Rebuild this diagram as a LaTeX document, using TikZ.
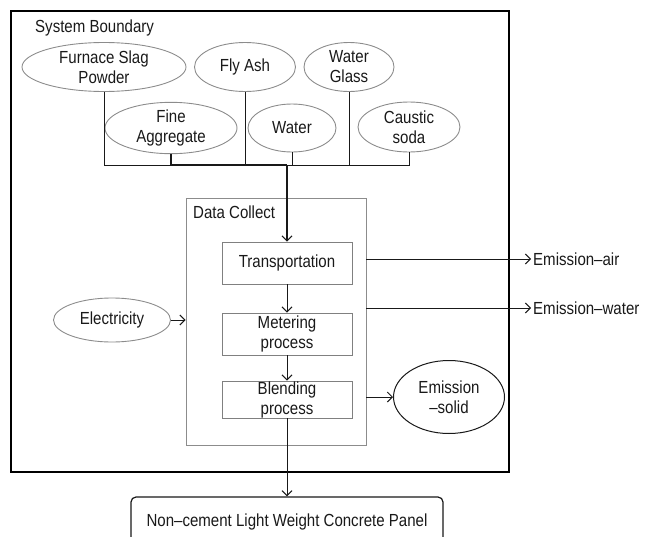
\documentclass[tikz,border=0pt]{standalone}
\usepackage{fontspec}
\setmainfont{Liberation Sans}[FakeStretch=0.86]
\usetikzlibrary{shapes.geometric,arrows.meta}
\begin{document}
\begin{tikzpicture}[x=1pt,y=-1pt,
  every node/.style={font=\fontsize{17.5}{20}\selectfont, text=black!90},
  inp/.style={ellipse, draw=black!45, line width=0.9pt, inner sep=0pt, align=center},
  procbox/.style={rectangle, draw=black!50, line width=0.9pt, minimum width=130pt, inner sep=0pt, align=center},
  conn/.style={draw=black!90, line width=1pt},
  arr/.style={conn, -{Straight Barb[length=5pt,width=10pt,line width=1pt]}},
]
\useasboundingbox (0,0) rectangle (656,536);
% system boundary
\node[draw=black, line width=2pt, minimum width=498pt, minimum height=461pt, inner sep=0pt] (sb) at (260,241.5) {};
\node[anchor=west, inner sep=0pt] (sbl) at (35,28) {System Boundary};
% inputs
\node[inp, minimum width=164pt, minimum height=49pt] (fsp) at (104,67) {Furnace Slag\\Powder};
\node[inp, minimum width=101pt, minimum height=49pt] (fly) at (245,67) {Fly Ash};
\node[inp, minimum width=90pt, minimum height=49pt] (wg) at (349,67) {Water\\Glass};
\node[inp, minimum width=132pt, minimum height=48pt] (fa) at (171,128) {Fine\\Aggregate};
\node[inp, minimum width=88pt, minimum height=48pt] (wat) at (292,128) {Water};
\node[inp, minimum width=102pt, minimum height=50pt] (cs) at (409,127) {Caustic\\soda};
% data collect
\node[draw=black!45, line width=0.9pt, minimum width=180pt, minimum height=247pt, inner sep=0pt] (dc) at (276,321.5) {};
\node[anchor=west, inner sep=0pt] (dcl) at (193,212) {Data Collect};
\node[procbox, minimum height=42pt] (tr) at (287,263) {Transportation};
\node[procbox, minimum height=42pt] (me) at (287,334) {Metering\\process};
\node[procbox, minimum height=37pt] (bl) at (287,399.5) {Blending\\process};
% electricity
\node[inp, minimum width=117pt, minimum height=44pt] (el) at (112,320) {Electricity};
% emissions
\node[anchor=west, inner sep=2pt] (ea) at (531,259) {Emission--air};
\node[anchor=west, inner sep=2pt] (ew) at (531,308) {Emission--water};
\node[ellipse, draw=black!90, line width=1pt, minimum width=111pt, minimum height=73pt, inner sep=0pt, align=center] (es) at (449,397) {Emission\\--solid};
% product
\node[draw=black!90, line width=1.2pt, rounded corners=5pt, minimum width=312pt, minimum height=50pt, inner sep=0pt] (pn) at (287,522) {};
\node[inner sep=0pt] (pnl) at (287,522) {Non--cement Light Weight Concrete Panel};
% bus
\coordinate (bus) at (287,165);
\draw[conn] (fsp.south) |- (bus);
\draw[conn] (fly.south) |- (bus);
\draw[conn] (wat.south) |- (bus);
\draw[conn] (wg.south) |- (bus);
\draw[conn] (cs.south) |- (bus);
\draw[conn, line width=1.7pt] (fa.south) |- (bus);
\draw[arr, line width=1.5pt] (bus) -- (tr.north);
% process flow
\draw[arr] (tr.south) -- (me.north);
\draw[arr] (me.south) -- (bl.north);
\draw[arr] (bl.south) -- (pn.north);
\draw[arr] (el.east) -- (el.east -| dc.west);
\draw[arr] (ea.west -| dc.east) -- (ea.west);
\draw[arr] (ew.west -| dc.east) -- (ew.west);
\draw[arr] (es.west -| dc.east) -- (es.west);
\end{tikzpicture}
\end{document}
